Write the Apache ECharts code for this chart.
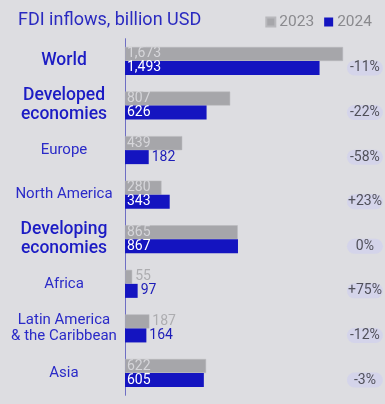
<!DOCTYPE html>
<html><head><meta charset="utf-8">
<script src="https://cdn.jsdelivr.net/npm/echarts@6/dist/echarts.min.js"></script>
<style>html,body{margin:0;padding:0;background:#dddde1}#c{width:385px;height:404px}</style>
</head><body><div id="c"></div>
<script>
const categories = ['World', 'Developed\neconomies', 'Europe', 'North America', 'Developing\neconomies', 'Africa', 'Latin America\n& the Caribbean', 'Asia'];
const majorGroups = ['World', 'Developed\neconomies', 'Developing\neconomies'];
const values2023 = [1673, 807, 439, 280, 865, 55, 187, 622];
const values2024 = [1493, 626, 182, 343, 867, 97, 164, 605];
const changes = ['-11%', '-22%', '-58%', '+23%', '0%', '+75%', '-12%', '-3%'];
const legendNames = ['2023', '2024'];

const AXIS_MAX = 1900;
const PILL_POS = AXIS_MAX * 0.969;
const INSIDE_MIN = 250;
const fmt = v => v.toLocaleString('en-US');

function barData(vals, insideColor, outsideColor) {
  return vals.map(v => ({
    value: v,
    label: v >= INSIDE_MIN
      ? { position: 'insideLeft', distance: 2, color: insideColor }
      : { position: 'right', distance: 3, color: outsideColor }
  }));
}

const chart = echarts.init(document.getElementById('c'), null, { renderer: 'canvas' });
chart.setOption({
  backgroundColor: '#dddde1',
  animation: false,
  textStyle: { fontFamily: 'Roboto' },
  title: {
    text: 'FDI inflows, billion USD', left: 13, top: 6,
    textStyle: { fontFamily: 'Roboto', fontSize: 18, fontWeight: 'normal', color: '#2a2ac0' }
  },
  legend: {
    data: legendNames, right: 8, top: 9, itemWidth: 9, itemHeight: 9, itemGap: 10,
    icon: 'rect',
    textStyle: { fontFamily: 'Roboto', fontSize: 15.5, color: '#8a8a8e', padding: [0, 0, 0, -1] }
  },
  grid: { left: 125, right: 12.4, top: 38.7, bottom: 8.7, containLabel: false },
  xAxis: { type: 'value', min: 0, max: AXIS_MAX, show: false },
  yAxis: {
    type: 'category', inverse: true, data: categories,
    axisLine: { show: true, lineStyle: { color: '#6e6ec4', width: 1 } },
    axisTick: { show: false },
    axisLabel: {
      margin: 61, align: 'center',
      formatter: v => majorGroups.includes(v) ? '{b|' + v.replace('\n', '}\n{b|') + '}' : '{n|' + v.replace('\n', '}\n{n|') + '}',
      rich: {
        b: { fontFamily: 'Roboto', fontSize: 17.5, fontWeight: 500, color: '#1c1cc4', lineHeight: 19, align: 'center' },
        n: { fontFamily: 'Roboto', fontSize: 15, color: '#2a2ac8', lineHeight: 16, align: 'center' }
      }
    }
  },
  series: [
    {
      name: '2023', type: 'bar', barWidth: 14, barGap: 0,
      itemStyle: { color: '#a6a6aa', borderColor: '#b8b8bc', borderWidth: 0.5 },
      label: { show: true, fontFamily: 'Roboto', fontSize: 14, formatter: p => fmt(p.value) },
      data: barData(values2023, '#d6d6da', '#adadb0')
    },
    {
      name: '2024', type: 'bar', barWidth: 14, barGap: 0,
      itemStyle: { color: '#1414c0' },
      label: { show: true, fontFamily: 'Roboto', fontSize: 14, formatter: p => fmt(p.value) },
      data: barData(values2024, '#ffffff', '#1c1cb8')
    },
    {
      type: 'scatter', symbolSize: 0, clip: false, silent: true,
      data: changes.map((c, i) => [PILL_POS, categories[i]]),
      label: {
        show: true, position: 'inside', offset: [0, 7],
        formatter: p => changes[p.dataIndex],
        fontFamily: 'Roboto', fontSize: 14, color: '#2e2e34',
        backgroundColor: '#d2d2ec', borderRadius: 8, padding: [1, 3, 0, 3],
        width: 30, align: 'center'
      }
    }
  ]
});
</script></body></html>
